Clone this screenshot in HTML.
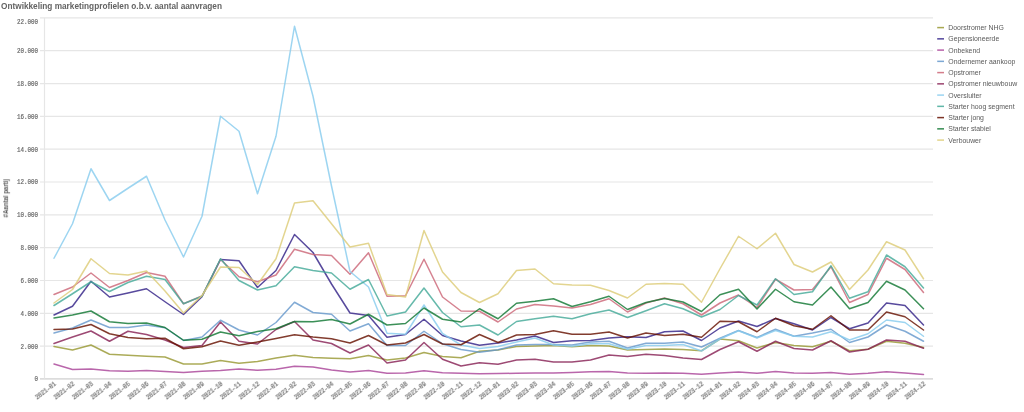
<!DOCTYPE html>
<html><head><meta charset="utf-8"><title>Ontwikkeling marketingprofielen</title>
<style>
html,body{margin:0;padding:0;background:#fff;}
body{width:1024px;height:412px;overflow:hidden;position:relative;font-family:"Liberation Sans",sans-serif;}
svg{position:absolute;left:0;top:0;display:block;filter:blur(0.45px);}
.ttl{font:bold 8.9px "Liberation Sans",sans-serif;fill:#636363;}
.yl{font:7.2px "Liberation Mono",monospace;fill:#686868;stroke:#686868;stroke-width:0.2;}
.xl{font:7.2px "Liberation Mono",monospace;fill:#686868;stroke:#686868;stroke-width:0.2;}
.lg{font:6.9px "Liberation Sans",sans-serif;fill:#595959;}
.yt{font:bold 7.2px "Liberation Sans",sans-serif;fill:#5c5c5c;}
text{filter:blur(0.3px);}
.ln{fill:none;stroke-width:1.5;stroke-opacity:0.82;stroke-linejoin:round;stroke-linecap:round;}
</style></head><body>
<svg width="1024" height="412" viewBox="0 0 1024 412">
<text class="ttl" x="1.0" y="8.7" textLength="221" lengthAdjust="spacingAndGlyphs">Ontwikkeling marketingprofielen o.b.v. aantal aanvragen</text>
<g stroke="#e6e6e6" stroke-width="1.2" shape-rendering="auto">
<line x1="40" y1="378.9" x2="933" y2="378.9" stroke="#dcdcdc" stroke-width="1.6"/>
<line x1="40" y1="346.17" x2="933" y2="346.17"/>
<line x1="40" y1="313.34" x2="933" y2="313.34"/>
<line x1="40" y1="280.51" x2="933" y2="280.51"/>
<line x1="40" y1="247.68" x2="933" y2="247.68"/>
<line x1="40" y1="214.85" x2="933" y2="214.85"/>
<line x1="40" y1="182.02" x2="933" y2="182.02"/>
<line x1="40" y1="149.19" x2="933" y2="149.19"/>
<line x1="40" y1="116.36" x2="933" y2="116.36"/>
<line x1="40" y1="83.53" x2="933" y2="83.53"/>
<line x1="40" y1="50.70" x2="933" y2="50.70"/>
<line x1="40" y1="17.87" x2="933" y2="17.87"/>
<line x1="44.5" y1="17.87" x2="44.5" y2="378.50"/>
</g>
<text class="yl" x="34.50" y="380.90" textLength="3.50" lengthAdjust="spacingAndGlyphs">0</text>
<text class="yl" x="20.50" y="348.57" textLength="17.50" lengthAdjust="spacingAndGlyphs">2.000</text>
<text class="yl" x="20.50" y="315.74" textLength="17.50" lengthAdjust="spacingAndGlyphs">4.000</text>
<text class="yl" x="20.50" y="282.91" textLength="17.50" lengthAdjust="spacingAndGlyphs">6.000</text>
<text class="yl" x="20.50" y="250.08" textLength="17.50" lengthAdjust="spacingAndGlyphs">8.000</text>
<text class="yl" x="17.00" y="217.25" textLength="21.00" lengthAdjust="spacingAndGlyphs">10.000</text>
<text class="yl" x="17.00" y="184.42" textLength="21.00" lengthAdjust="spacingAndGlyphs">12.000</text>
<text class="yl" x="17.00" y="151.59" textLength="21.00" lengthAdjust="spacingAndGlyphs">14.000</text>
<text class="yl" x="17.00" y="118.76" textLength="21.00" lengthAdjust="spacingAndGlyphs">16.000</text>
<text class="yl" x="17.00" y="85.93" textLength="21.00" lengthAdjust="spacingAndGlyphs">18.000</text>
<text class="yl" x="17.00" y="53.10" textLength="21.00" lengthAdjust="spacingAndGlyphs">20.000</text>
<text class="yl" x="17.00" y="23.77" textLength="21.00" lengthAdjust="spacingAndGlyphs">22.000</text>
<text class="yt" transform="translate(8.1,198.3) rotate(-90)" x="-19.2" y="0" textLength="38.4" lengthAdjust="spacingAndGlyphs">#Aantal partij</text>
<text class="xl" transform="translate(56.60,384.80) rotate(-38)" x="-24.6" y="0" textLength="24.6" lengthAdjust="spacingAndGlyphs">2021-01</text>
<text class="xl" transform="translate(75.10,384.80) rotate(-38)" x="-24.6" y="0" textLength="24.6" lengthAdjust="spacingAndGlyphs">2021-02</text>
<text class="xl" transform="translate(93.60,384.80) rotate(-38)" x="-24.6" y="0" textLength="24.6" lengthAdjust="spacingAndGlyphs">2021-03</text>
<text class="xl" transform="translate(112.10,384.80) rotate(-38)" x="-24.6" y="0" textLength="24.6" lengthAdjust="spacingAndGlyphs">2021-04</text>
<text class="xl" transform="translate(130.60,384.80) rotate(-38)" x="-24.6" y="0" textLength="24.6" lengthAdjust="spacingAndGlyphs">2021-05</text>
<text class="xl" transform="translate(149.10,384.80) rotate(-38)" x="-24.6" y="0" textLength="24.6" lengthAdjust="spacingAndGlyphs">2021-06</text>
<text class="xl" transform="translate(167.60,384.80) rotate(-38)" x="-24.6" y="0" textLength="24.6" lengthAdjust="spacingAndGlyphs">2021-07</text>
<text class="xl" transform="translate(186.10,384.80) rotate(-38)" x="-24.6" y="0" textLength="24.6" lengthAdjust="spacingAndGlyphs">2021-08</text>
<text class="xl" transform="translate(204.60,384.80) rotate(-38)" x="-24.6" y="0" textLength="24.6" lengthAdjust="spacingAndGlyphs">2021-09</text>
<text class="xl" transform="translate(223.10,384.80) rotate(-38)" x="-24.6" y="0" textLength="24.6" lengthAdjust="spacingAndGlyphs">2021-10</text>
<text class="xl" transform="translate(241.60,384.80) rotate(-38)" x="-24.6" y="0" textLength="24.6" lengthAdjust="spacingAndGlyphs">2021-11</text>
<text class="xl" transform="translate(260.10,384.80) rotate(-38)" x="-24.6" y="0" textLength="24.6" lengthAdjust="spacingAndGlyphs">2021-12</text>
<text class="xl" transform="translate(278.60,384.80) rotate(-38)" x="-24.6" y="0" textLength="24.6" lengthAdjust="spacingAndGlyphs">2022-01</text>
<text class="xl" transform="translate(297.10,384.80) rotate(-38)" x="-24.6" y="0" textLength="24.6" lengthAdjust="spacingAndGlyphs">2022-02</text>
<text class="xl" transform="translate(315.60,384.80) rotate(-38)" x="-24.6" y="0" textLength="24.6" lengthAdjust="spacingAndGlyphs">2022-03</text>
<text class="xl" transform="translate(334.10,384.80) rotate(-38)" x="-24.6" y="0" textLength="24.6" lengthAdjust="spacingAndGlyphs">2022-04</text>
<text class="xl" transform="translate(352.60,384.80) rotate(-38)" x="-24.6" y="0" textLength="24.6" lengthAdjust="spacingAndGlyphs">2022-05</text>
<text class="xl" transform="translate(371.10,384.80) rotate(-38)" x="-24.6" y="0" textLength="24.6" lengthAdjust="spacingAndGlyphs">2022-06</text>
<text class="xl" transform="translate(389.60,384.80) rotate(-38)" x="-24.6" y="0" textLength="24.6" lengthAdjust="spacingAndGlyphs">2022-07</text>
<text class="xl" transform="translate(408.10,384.80) rotate(-38)" x="-24.6" y="0" textLength="24.6" lengthAdjust="spacingAndGlyphs">2022-08</text>
<text class="xl" transform="translate(426.60,384.80) rotate(-38)" x="-24.6" y="0" textLength="24.6" lengthAdjust="spacingAndGlyphs">2022-09</text>
<text class="xl" transform="translate(445.10,384.80) rotate(-38)" x="-24.6" y="0" textLength="24.6" lengthAdjust="spacingAndGlyphs">2022-10</text>
<text class="xl" transform="translate(463.60,384.80) rotate(-38)" x="-24.6" y="0" textLength="24.6" lengthAdjust="spacingAndGlyphs">2022-11</text>
<text class="xl" transform="translate(482.10,384.80) rotate(-38)" x="-24.6" y="0" textLength="24.6" lengthAdjust="spacingAndGlyphs">2022-12</text>
<text class="xl" transform="translate(500.60,384.80) rotate(-38)" x="-24.6" y="0" textLength="24.6" lengthAdjust="spacingAndGlyphs">2023-01</text>
<text class="xl" transform="translate(519.10,384.80) rotate(-38)" x="-24.6" y="0" textLength="24.6" lengthAdjust="spacingAndGlyphs">2023-02</text>
<text class="xl" transform="translate(537.60,384.80) rotate(-38)" x="-24.6" y="0" textLength="24.6" lengthAdjust="spacingAndGlyphs">2023-03</text>
<text class="xl" transform="translate(556.10,384.80) rotate(-38)" x="-24.6" y="0" textLength="24.6" lengthAdjust="spacingAndGlyphs">2023-04</text>
<text class="xl" transform="translate(574.60,384.80) rotate(-38)" x="-24.6" y="0" textLength="24.6" lengthAdjust="spacingAndGlyphs">2023-05</text>
<text class="xl" transform="translate(593.10,384.80) rotate(-38)" x="-24.6" y="0" textLength="24.6" lengthAdjust="spacingAndGlyphs">2023-06</text>
<text class="xl" transform="translate(611.60,384.80) rotate(-38)" x="-24.6" y="0" textLength="24.6" lengthAdjust="spacingAndGlyphs">2023-07</text>
<text class="xl" transform="translate(630.10,384.80) rotate(-38)" x="-24.6" y="0" textLength="24.6" lengthAdjust="spacingAndGlyphs">2023-08</text>
<text class="xl" transform="translate(648.60,384.80) rotate(-38)" x="-24.6" y="0" textLength="24.6" lengthAdjust="spacingAndGlyphs">2023-09</text>
<text class="xl" transform="translate(667.10,384.80) rotate(-38)" x="-24.6" y="0" textLength="24.6" lengthAdjust="spacingAndGlyphs">2023-10</text>
<text class="xl" transform="translate(685.60,384.80) rotate(-38)" x="-24.6" y="0" textLength="24.6" lengthAdjust="spacingAndGlyphs">2023-11</text>
<text class="xl" transform="translate(704.10,384.80) rotate(-38)" x="-24.6" y="0" textLength="24.6" lengthAdjust="spacingAndGlyphs">2023-12</text>
<text class="xl" transform="translate(722.60,384.80) rotate(-38)" x="-24.6" y="0" textLength="24.6" lengthAdjust="spacingAndGlyphs">2024-01</text>
<text class="xl" transform="translate(741.10,384.80) rotate(-38)" x="-24.6" y="0" textLength="24.6" lengthAdjust="spacingAndGlyphs">2024-02</text>
<text class="xl" transform="translate(759.60,384.80) rotate(-38)" x="-24.6" y="0" textLength="24.6" lengthAdjust="spacingAndGlyphs">2024-03</text>
<text class="xl" transform="translate(778.10,384.80) rotate(-38)" x="-24.6" y="0" textLength="24.6" lengthAdjust="spacingAndGlyphs">2024-04</text>
<text class="xl" transform="translate(796.60,384.80) rotate(-38)" x="-24.6" y="0" textLength="24.6" lengthAdjust="spacingAndGlyphs">2024-05</text>
<text class="xl" transform="translate(815.10,384.80) rotate(-38)" x="-24.6" y="0" textLength="24.6" lengthAdjust="spacingAndGlyphs">2024-06</text>
<text class="xl" transform="translate(833.60,384.80) rotate(-38)" x="-24.6" y="0" textLength="24.6" lengthAdjust="spacingAndGlyphs">2024-07</text>
<text class="xl" transform="translate(852.10,384.80) rotate(-38)" x="-24.6" y="0" textLength="24.6" lengthAdjust="spacingAndGlyphs">2024-08</text>
<text class="xl" transform="translate(870.60,384.80) rotate(-38)" x="-24.6" y="0" textLength="24.6" lengthAdjust="spacingAndGlyphs">2024-09</text>
<text class="xl" transform="translate(889.10,384.80) rotate(-38)" x="-24.6" y="0" textLength="24.6" lengthAdjust="spacingAndGlyphs">2024-10</text>
<text class="xl" transform="translate(907.60,384.80) rotate(-38)" x="-24.6" y="0" textLength="24.6" lengthAdjust="spacingAndGlyphs">2024-11</text>
<text class="xl" transform="translate(926.10,384.80) rotate(-38)" x="-24.6" y="0" textLength="24.6" lengthAdjust="spacingAndGlyphs">2024-12</text>
<polyline class="ln" stroke="#999933" points="54.00,346.50 72.50,350.00 91.00,345.00 109.50,354.25 128.00,355.25 146.50,356.25 165.00,357.00 183.50,364.00 202.00,364.00 220.50,360.50 239.00,363.25 257.50,361.50 276.00,358.00 294.50,355.25 313.00,357.50 331.50,358.25 350.00,358.75 368.50,355.50 387.00,360.00 405.50,358.00 424.00,352.50 442.50,356.50 461.00,357.75 479.50,351.25 498.00,350.00 516.50,346.50 535.00,346.00 553.50,345.50 572.00,346.75 590.50,345.50 609.00,346.00 627.50,350.00 646.00,349.50 664.50,349.00 683.00,349.50 701.50,350.75 720.00,339.00 738.50,340.75 757.00,348.00 775.50,342.50 794.00,345.50 812.50,346.75 831.00,341.25 849.50,350.75 868.00,349.25 886.50,341.25 905.00,343.25 923.50,347.50"/>
<polyline class="ln" stroke="#332288" points="54.00,315.00 72.50,306.25 91.00,281.25 109.50,297.00 128.00,293.00 146.50,288.75 165.00,301.75 183.50,314.50 202.00,296.75 220.50,259.50 239.00,260.75 257.50,287.50 276.00,270.50 294.50,234.50 313.00,252.50 331.50,284.00 350.00,313.00 368.50,315.50 387.00,337.25 405.50,334.50 424.00,319.25 442.50,335.50 461.00,341.00 479.50,345.25 498.00,343.00 516.50,340.00 535.00,336.00 553.50,342.50 572.00,340.75 590.50,340.50 609.00,338.00 627.50,336.75 646.00,337.50 664.50,331.75 683.00,331.00 701.50,340.50 720.00,328.00 738.50,321.00 757.00,326.50 775.50,318.50 794.00,323.75 812.50,330.00 831.00,317.50 849.50,328.75 868.00,323.00 886.50,303.00 905.00,305.50 923.50,325.00"/>
<polyline class="ln" stroke="#aa4499" points="54.00,364.00 72.50,369.50 91.00,369.00 109.50,370.75 128.00,371.25 146.50,370.50 165.00,371.50 183.50,372.50 202.00,371.25 220.50,370.50 239.00,369.00 257.50,370.25 276.00,369.25 294.50,366.25 313.00,367.00 331.50,370.00 350.00,372.00 368.50,370.50 387.00,373.25 405.50,373.00 424.00,370.75 442.50,372.75 461.00,373.25 479.50,373.75 498.00,373.50 516.50,373.25 535.00,373.00 553.50,373.00 572.00,372.50 590.50,371.75 609.00,371.50 627.50,373.00 646.00,373.25 664.50,373.00 683.00,373.25 701.50,374.25 720.00,373.00 738.50,372.00 757.00,373.25 775.50,371.50 794.00,373.00 812.50,373.25 831.00,372.50 849.50,374.25 868.00,373.25 886.50,371.75 905.00,373.00 923.50,374.50"/>
<polyline class="ln" stroke="#6699cc" points="54.00,333.00 72.50,328.00 91.00,320.00 109.50,327.50 128.00,327.50 146.50,325.00 165.00,327.75 183.50,340.50 202.00,337.00 220.50,320.25 239.00,330.00 257.50,335.00 276.00,322.50 294.50,302.25 313.00,312.50 331.50,314.25 350.00,331.00 368.50,323.75 387.00,345.50 405.50,345.50 424.00,331.25 442.50,343.75 461.00,349.50 479.50,352.25 498.00,349.75 516.50,345.00 535.00,344.50 553.50,344.50 572.00,345.00 590.50,342.00 609.00,341.25 627.50,348.00 646.00,343.25 664.50,343.25 683.00,342.00 701.50,347.00 720.00,338.25 738.50,330.50 757.00,337.50 775.50,329.25 794.00,336.25 812.50,333.00 831.00,329.25 849.50,342.50 868.00,337.00 886.50,325.00 905.00,331.25 923.50,341.25"/>
<polyline class="ln" stroke="#cc6677" points="54.00,294.50 72.50,287.00 91.00,273.00 109.50,287.50 128.00,280.50 146.50,272.50 165.00,276.25 183.50,303.75 202.00,296.00 220.50,259.50 239.00,276.75 257.50,281.75 276.00,275.00 294.50,249.25 313.00,254.50 331.50,255.50 350.00,274.25 368.50,252.75 387.00,296.25 405.50,295.75 424.00,259.25 442.50,297.00 461.00,311.00 479.50,311.25 498.00,322.00 516.50,309.00 535.00,304.50 553.50,306.00 572.00,308.00 590.50,304.50 609.00,298.75 627.50,312.00 646.00,303.00 664.50,298.00 683.00,303.75 701.50,315.00 720.00,303.00 738.50,295.00 757.00,307.50 775.50,279.25 794.00,290.00 812.50,289.50 831.00,266.75 849.50,302.50 868.00,294.50 886.50,258.25 905.00,269.50 923.50,292.50"/>
<polyline class="ln" stroke="#882255" points="54.00,343.50 72.50,337.00 91.00,331.00 109.50,341.25 128.00,331.25 146.50,334.50 165.00,340.00 183.50,347.50 202.00,345.50 220.50,322.00 239.00,341.25 257.50,344.00 276.00,329.50 294.50,321.50 313.00,340.00 331.50,343.50 350.00,353.00 368.50,345.00 387.00,363.00 405.50,360.00 424.00,342.50 442.50,359.25 461.00,366.00 479.50,362.75 498.00,364.25 516.50,360.00 535.00,359.25 553.50,362.00 572.00,362.00 590.50,360.00 609.00,355.00 627.50,356.50 646.00,354.25 664.50,355.50 683.00,358.00 701.50,359.50 720.00,349.50 738.50,341.75 757.00,351.25 775.50,341.25 794.00,348.50 812.50,350.00 831.00,340.75 849.50,352.00 868.00,349.25 886.50,340.00 905.00,341.25 923.50,348.25"/>
<polyline class="ln" stroke="#88ccee" points="54.00,258.25 72.50,223.75 91.00,168.75 109.50,200.50 128.00,188.25 146.50,176.25 165.00,220.00 183.50,257.00 202.00,216.25 220.50,116.25 239.00,131.25 257.50,193.75 276.00,136.25 294.50,26.25 313.00,96.25 331.50,186.00 350.00,271.50 368.50,287.00 387.00,333.25 405.50,334.25 424.00,305.00 442.50,333.50 461.00,345.00 479.50,348.50 498.00,346.50 516.50,342.00 535.00,338.00 553.50,345.00 572.00,346.25 590.50,343.75 609.00,343.75 627.50,349.25 646.00,345.50 664.50,345.50 683.00,344.50 701.50,351.00 720.00,339.00 738.50,330.75 757.00,338.00 775.50,330.50 794.00,336.25 812.50,337.00 831.00,331.75 849.50,340.00 868.00,333.75 886.50,320.00 905.00,322.50 923.50,336.25"/>
<polyline class="ln" stroke="#44aa99" points="54.00,305.50 72.50,293.75 91.00,281.75 109.50,291.50 128.00,282.50 146.50,276.25 165.00,279.50 183.50,303.75 202.00,296.25 220.50,258.75 239.00,280.50 257.50,290.00 276.00,285.75 294.50,266.75 313.00,270.50 331.50,273.00 350.00,289.25 368.50,279.50 387.00,316.00 405.50,312.00 424.00,288.00 442.50,312.50 461.00,326.75 479.50,325.00 498.00,335.00 516.50,321.50 535.00,318.75 553.50,316.25 572.00,318.75 590.50,313.75 609.00,310.00 627.50,317.50 646.00,310.75 664.50,303.75 683.00,308.75 701.50,317.00 720.00,309.50 738.50,295.50 757.00,305.00 775.50,278.75 794.00,294.50 812.50,291.75 831.00,265.75 849.50,298.25 868.00,291.75 886.50,255.00 905.00,266.75 923.50,288.00"/>
<polyline class="ln" stroke="#661100" points="54.00,329.50 72.50,329.00 91.00,324.50 109.50,333.75 128.00,337.50 146.50,338.75 165.00,338.25 183.50,348.75 202.00,346.75 220.50,341.00 239.00,345.25 257.50,342.00 276.00,338.50 294.50,334.75 313.00,337.00 331.50,338.75 350.00,343.00 368.50,335.50 387.00,345.00 405.50,343.00 424.00,334.50 442.50,344.00 461.00,344.75 479.50,334.50 498.00,342.50 516.50,335.00 535.00,334.50 553.50,330.75 572.00,334.25 590.50,334.25 609.00,332.00 627.50,338.00 646.00,333.00 664.50,335.50 683.00,334.25 701.50,337.25 720.00,321.25 738.50,321.75 757.00,331.75 775.50,318.25 794.00,325.75 812.50,329.25 831.00,315.75 849.50,330.00 868.00,330.00 886.50,312.00 905.00,316.75 923.50,330.00"/>
<polyline class="ln" stroke="#117733" points="54.00,318.00 72.50,315.00 91.00,311.00 109.50,321.75 128.00,323.50 146.50,323.00 165.00,327.50 183.50,340.25 202.00,339.25 220.50,332.00 239.00,335.75 257.50,331.50 276.00,328.75 294.50,321.50 313.00,321.75 331.50,319.50 350.00,324.00 368.50,314.25 387.00,325.00 405.50,323.50 424.00,308.00 442.50,319.25 461.00,322.00 479.50,308.75 498.00,318.75 516.50,303.25 535.00,301.25 553.50,298.75 572.00,306.50 590.50,301.75 609.00,296.25 627.50,309.50 646.00,302.50 664.50,298.50 683.00,302.00 701.50,311.50 720.00,294.75 738.50,289.25 757.00,309.00 775.50,289.25 794.00,301.75 812.50,305.00 831.00,287.00 849.50,308.75 868.00,302.50 886.50,281.25 905.00,290.00 923.50,308.75"/>
<polyline class="ln" stroke="#ddcc77" points="54.00,303.00 72.50,289.50 91.00,258.75 109.50,273.50 128.00,275.00 146.50,271.00 165.00,291.00 183.50,313.00 202.00,295.50 220.50,267.00 239.00,267.50 257.50,284.50 276.00,258.75 294.50,203.00 313.00,200.75 331.50,223.75 350.00,247.00 368.50,243.25 387.00,294.50 405.50,297.00 424.00,230.50 442.50,272.00 461.00,292.50 479.50,302.50 498.00,293.75 516.50,270.50 535.00,269.00 553.50,283.75 572.00,285.00 590.50,285.25 609.00,290.50 627.50,298.00 646.00,284.25 664.50,283.50 683.00,284.25 701.50,302.25 720.00,268.75 738.50,236.25 757.00,248.75 775.50,233.25 794.00,264.50 812.50,272.00 831.00,262.00 849.50,289.50 868.00,270.00 886.50,241.75 905.00,250.00 923.50,278.75"/>
<line x1="937.2" y1="27.60" x2="944" y2="27.60" stroke="#999933" stroke-width="1.5" stroke-opacity="0.85"/>
<text class="lg" transform="translate(948.3,30.15) scale(1,1.08)">Doorstromer NHG</text>
<line x1="937.2" y1="38.85" x2="944" y2="38.85" stroke="#332288" stroke-width="1.5" stroke-opacity="0.85"/>
<text class="lg" transform="translate(948.3,41.40) scale(1,1.08)">Gepensioneerde</text>
<line x1="937.2" y1="50.10" x2="944" y2="50.10" stroke="#aa4499" stroke-width="1.5" stroke-opacity="0.85"/>
<text class="lg" transform="translate(948.3,52.65) scale(1,1.08)">Onbekend</text>
<line x1="937.2" y1="61.35" x2="944" y2="61.35" stroke="#6699cc" stroke-width="1.5" stroke-opacity="0.85"/>
<text class="lg" transform="translate(948.3,63.90) scale(1,1.08)">Ondernemer aankoop</text>
<line x1="937.2" y1="72.60" x2="944" y2="72.60" stroke="#cc6677" stroke-width="1.5" stroke-opacity="0.85"/>
<text class="lg" transform="translate(948.3,75.15) scale(1,1.08)">Opstromer</text>
<line x1="937.2" y1="83.85" x2="944" y2="83.85" stroke="#882255" stroke-width="1.5" stroke-opacity="0.85"/>
<text class="lg" transform="translate(948.3,86.40) scale(1,1.08)">Opstromer nieuwbouw</text>
<line x1="937.2" y1="95.10" x2="944" y2="95.10" stroke="#88ccee" stroke-width="1.5" stroke-opacity="0.85"/>
<text class="lg" transform="translate(948.3,97.65) scale(1,1.08)">Oversluiter</text>
<line x1="937.2" y1="106.35" x2="944" y2="106.35" stroke="#44aa99" stroke-width="1.5" stroke-opacity="0.85"/>
<text class="lg" transform="translate(948.3,108.90) scale(1,1.08)">Starter hoog segment</text>
<line x1="937.2" y1="117.60" x2="944" y2="117.60" stroke="#661100" stroke-width="1.5" stroke-opacity="0.85"/>
<text class="lg" transform="translate(948.3,120.15) scale(1,1.08)">Starter jong</text>
<line x1="937.2" y1="128.85" x2="944" y2="128.85" stroke="#117733" stroke-width="1.5" stroke-opacity="0.85"/>
<text class="lg" transform="translate(948.3,131.40) scale(1,1.08)">Starter stabiel</text>
<line x1="937.2" y1="140.10" x2="944" y2="140.10" stroke="#ddcc77" stroke-width="1.5" stroke-opacity="0.85"/>
<text class="lg" transform="translate(948.3,142.65) scale(1,1.08)">Verbouwer</text>
</svg>
</body></html>
